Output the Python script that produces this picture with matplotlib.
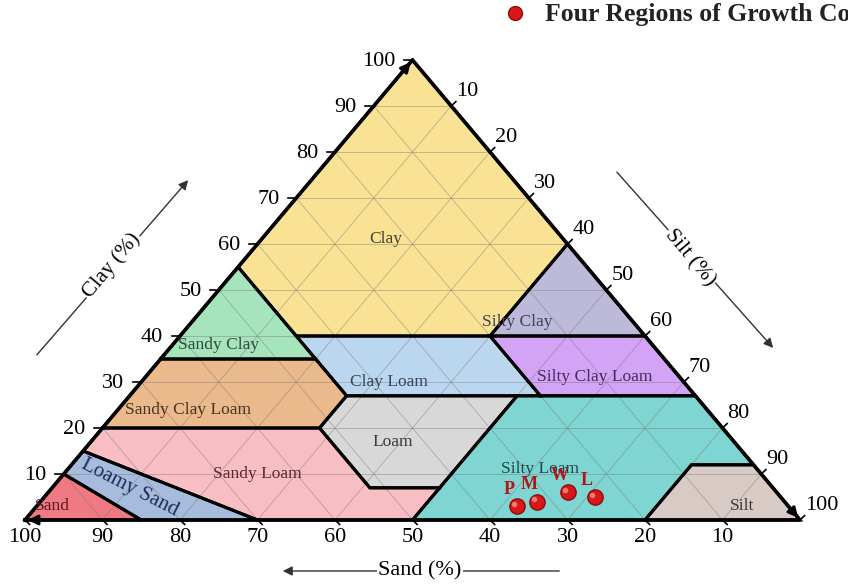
import numpy as np
import matplotlib.pyplot as plt
from matplotlib.patches import Polygon

plt.rcParams['font.family'] = ['Liberation Serif', 'DejaVu Serif']

# USDA texture classes, vertices given as (sand, silt, clay) in percent
class_names = ['Clay', 'Sandy Clay', 'Silty Clay', 'Clay Loam', 'Silty Clay Loam',
               'Sandy Clay Loam', 'Loam', 'Silty Loam', 'Sandy Loam', 'Loamy Sand',
               'Sand', 'Silt']
class_vertices = [
    [(45, 0, 55), (0, 0, 100), (0, 40, 60), (20, 40, 40), (45, 15, 40)],
    [(65, 0, 35), (45, 20, 35), (45, 0, 55)],
    [(20, 40, 40), (0, 60, 40), (0, 40, 60)],
    [(45, 28, 27), (20, 53, 27), (20, 40, 40), (45, 15, 40)],
    [(20, 53, 27), (0, 73, 27), (0, 60, 40), (20, 40, 40)],
    [(80, 0, 20), (52, 28, 20), (45, 28, 27), (45, 20, 35), (65, 0, 35)],
    [(43, 50, 7), (52, 41, 7), (52, 28, 20), (45, 28, 27), (23, 50, 27)],
    [(50, 50, 0), (20, 80, 0), (8, 80, 12), (0, 88, 12), (0, 73, 27), (23, 50, 27)],
    [(70, 30, 0), (50, 50, 0), (43, 50, 7), (52, 41, 7), (52, 28, 20), (80, 0, 20), (85, 0, 15)],
    [(85, 15, 0), (70, 30, 0), (85, 0, 15), (90, 0, 10)],
    [(100, 0, 0), (85, 15, 0), (90, 0, 10)],
    [(20, 80, 0), (0, 100, 0), (0, 88, 12), (8, 80, 12)],
]
class_colors = ['#F9E294', '#A6E4BC', '#BDBAD9', '#BBD7EF', '#D3A4F6', '#EBBA8C',
                '#D8D8D8', '#7FD5D2', '#F9BEC3', '#A7BCDC', '#EF7A84', '#D8CBC5']
label_sites = [(23, 16, 61), (56, 6, 38), (15, 42, 43), (38, 32, 30), (11, 58, 31),
               (67, 9, 24), (44, 39, 17), (28, 61, 11), (65, 25, 10), (83, 10, 7),
               (95, 2, 3), (6, 91, 3)]
label_colors = ['#4a4030', '#2f4a3a', '#40405a', '#34465a', '#4a2a5a', '#4a3420',
                '#3a3a3a', '#1f4a4a', '#5a2a30', '#1e2c5e', '#5a1a20', '#3a3a3a']

# Sampled sites (sand, silt, clay)
sample_names = ['P', 'M', 'W', 'L']
sample_sand = [35, 32, 27, 24]
sample_silt = [62, 64, 67, 71]
sample_clay = [3, 4, 6, 5]

ticks = [10, 20, 30, 40, 50, 60, 70, 80, 90, 100]


def tern(sand, silt, clay):
    return silt + clay / 2.0, clay


W, H = 848, 584
fig = plt.figure(figsize=(W / 100, H / 100), dpi=100)
ax = fig.add_axes([0, 0, 1, 1])
sx, sy = 7.75, 4.6          # pixels per percent along x and clay direction
x0, y0 = 25, 520            # pixel position of the 100 % sand corner
ax.set_xlim(-x0 / sx, (W - x0) / sx)
ax.set_ylim((y0 - H) / sy, y0 / sy)
ax.axis('off')

# class polygons
for verts, col in zip(class_vertices, class_colors):
    pts = [tern(*v) for v in verts]
    ax.add_patch(Polygon(pts, closed=True, facecolor=col, edgecolor='none', zorder=1))

# 10 % grid
for v in range(10, 100, 10):
    segs = [
        (tern(100 - v, 0, v), tern(0, 100 - v, v)),
        (tern(100 - v, v, 0), tern(0, v, 100 - v)),
        (tern(v, 100 - v, 0), tern(v, 0, 100 - v)),
    ]
    for a, b in segs:
        ax.plot([a[0], b[0]], [a[1], b[1]], color='#707070', lw=0.6, alpha=0.45, zorder=2)

# class borders
for verts in class_vertices:
    pts = [tern(*v) for v in verts] + [tern(*verts[0])]
    xs, ys = zip(*pts)
    ax.plot(xs, ys, color='black', lw=2.2, zorder=3, solid_joinstyle='miter')

# outline
corners = [tern(100, 0, 0), tern(0, 100, 0), tern(0, 0, 100), tern(100, 0, 0)]
xs, ys = zip(*corners)
ax.plot(xs, ys, color='black', lw=2.6, zorder=4)

# corner arrowheads
arrow_kw = dict(arrowstyle='-|>', color='black', lw=2.2, mutation_scale=14)
for a, b in [(tern(2, 0, 98), tern(0, 0, 100)),
             (tern(0, 98, 2), tern(0, 100, 0)),
             (tern(97, 3, 0), tern(100, 0, 0))]:
    ax.annotate('', xy=b, xytext=a, arrowprops=arrow_kw, zorder=5)

# ticks and tick labels
tl = 1.2
tfs = 16
for v in ticks:
    # clay on left edge
    px, py = tern(100 - v, 0, v)
    ax.plot([px, px - tl * 0.9], [py, py], color='black', lw=1.2, zorder=4)
    ax.text(px - 17 / sx, py - 1 / sy, str(v), ha='right', va='center', fontsize=tfs, zorder=5)
    # silt on right edge
    px, py = tern(0, v, 100 - v)
    ax.plot([px, px + tl * 0.5], [py, py + tl * 0.8], color='black', lw=1.2, zorder=4)
    ax.text(px + 5 / sx, py + 15 / sy, str(v), ha='left', va='center', fontsize=tfs, zorder=5)
    # sand on bottom edge
    px, py = tern(v, 100 - v, 0)
    ax.plot([px, px + tl * 0.5], [py, py - tl * 0.8], color='black', lw=1.2, zorder=4)
    ax.text(px, py - 18 / sy, str(v), ha='center', va='center', fontsize=tfs, zorder=5)

# class labels
for name, site, col in zip(class_names, label_sites, label_colors):
    px, py = tern(*site)
    if name == 'Loamy Sand':
        ax.text(px, py, name, ha='center', va='center', fontsize=15, rotation=-27,
                color=col, zorder=6)
    else:
        ax.text(px, py, name, ha='center', va='center', fontsize=12.5, color=col, zorder=6)

# samples
for n, s, si, c in zip(sample_names, sample_sand, sample_silt, sample_clay):
    px, py = tern(s, si, c)
    ax.plot(px, py, 'o', ms=11, color='#D9171B', mec='#8E0B0B', mew=1.0, zorder=7)
    ax.plot(px - 0.35, py + 0.5, 'o', ms=4, color='#F27A70', mec='none', zorder=8)
    ax.text(px - 1.0, py + 1.8, n, ha='center', va='bottom', fontsize=13,
            fontweight='bold', color='#B01518', zorder=8)

# axis titles with direction arrows (figure pixel coordinates)
def fp(x, y):
    return x / W, 1 - y / H

ax.annotate('', xy=fp(190, 178), xytext=fp(35, 357), xycoords='figure fraction',
            textcoords='figure fraction',
            arrowprops=dict(arrowstyle='-|>', color='#333333', lw=1.0, mutation_scale=14))
fig.text(*fp(112, 266), 'Clay (%)', rotation=50, ha='center', va='center', fontsize=15.5,
         bbox=dict(facecolor='white', edgecolor='none', pad=1))
ax.annotate('', xy=fp(775, 350), xytext=fp(615, 170), xycoords='figure fraction',
            textcoords='figure fraction',
            arrowprops=dict(arrowstyle='-|>', color='#333333', lw=1.0, mutation_scale=14))
fig.text(*fp(690, 258), 'Silt (%)', rotation=-50, ha='center', va='center', fontsize=15.5,
         bbox=dict(facecolor='white', edgecolor='none', pad=1))
ax.annotate('', xy=fp(280, 571), xytext=fp(562, 571), xycoords='figure fraction',
            textcoords='figure fraction',
            arrowprops=dict(arrowstyle='-|>', color='#333333', lw=1.0, mutation_scale=14))
fig.text(*fp(420, 571), 'Sand (%)', ha='center', va='center', fontsize=16,
         bbox=dict(facecolor='white', edgecolor='none', pad=1))

# legend entry
ax.plot([(515 - x0) / sx], [(y0 - 13) / sy], 'o', ms=10, color='#D9171B', mec='#8E0B0B',
        clip_on=False, zorder=9)
fig.text(*fp(545, 14), 'Four Regions of Growth Conditions', ha='left', va='center',
         fontsize=18.5, fontweight='bold', color='#222222')

fig.savefig('out.png', dpi=100)
